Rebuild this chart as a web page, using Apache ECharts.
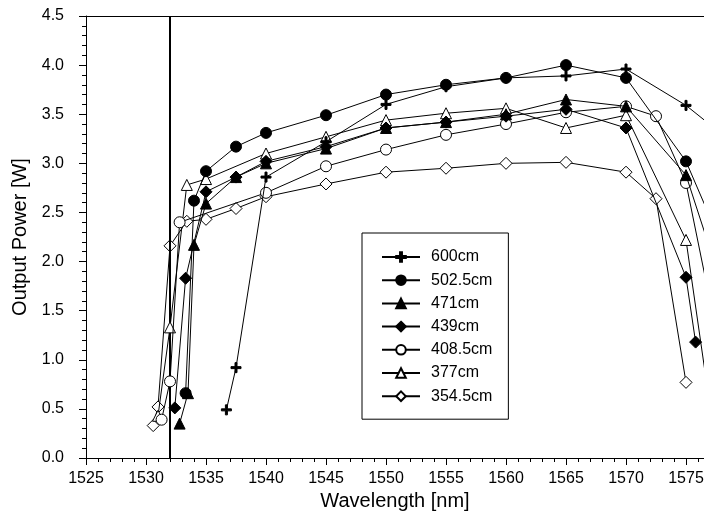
<!DOCTYPE html>
<html>
<head>
<meta charset="utf-8">
<script src="https://cdn.jsdelivr.net/npm/echarts@6/dist/echarts.min.js"></script>
<style>html,body{margin:0;padding:0;background:#fff}#c{width:704px;height:527px}</style>
</head>
<body>
<div id="c"></div>
<script>
// ---- data ----
const names = ['600cm', '502.5cm', '471cm', '439cm', '408.5cm', '377cm', '354.5cm'];

const wl600 = [1536.7, 1537.5, 1540, 1545, 1550, 1555, 1560, 1565, 1570, 1575, 1580];
const p600  = [0.49, 0.92, 2.86, 3.22, 3.60, 3.78, 3.87, 3.89, 3.96, 3.59, 3.10];

const wl502 = [1533.3, 1534, 1535, 1537.5, 1540, 1545, 1550, 1555, 1560, 1565, 1570, 1575, 1580];
const p502  = [0.66, 2.62, 2.92, 3.17, 3.31, 3.49, 3.70, 3.80, 3.87, 4.00, 3.87, 3.02, 1.6];

const wl471 = [1532.8, 1533.5, 1534, 1535, 1537.5, 1540, 1545, 1550, 1555, 1560, 1565, 1570, 1575, 1580];
const p471  = [0.35, 0.66, 2.17, 2.59, 2.86, 3.00, 3.15, 3.36, 3.42, 3.50, 3.65, 3.58, 2.88, 1.0];

const wl439 = [1532.4, 1533.3, 1535, 1537.5, 1540, 1545, 1550, 1555, 1560, 1565, 1570, 1575, 1575.8];
const p439  = [0.51, 1.83, 2.71, 2.86, 3.02, 3.17, 3.36, 3.42, 3.48, 3.55, 3.36, 1.84, 1.18];

const wl408 = [1531.3, 1532, 1532.8, 1540, 1545, 1550, 1555, 1560, 1565, 1570, 1572.5, 1575, 1577.5];
const p408  = [0.39, 0.78, 2.40, 2.70, 2.97, 3.14, 3.29, 3.40, 3.52, 3.58, 3.48, 2.80, 1.3];

const wl377 = [1531, 1532, 1533.4, 1535, 1540, 1545, 1550, 1555, 1560, 1565, 1570, 1575, 1577.5];
const p377  = [0.43, 1.33, 2.78, 2.84, 3.10, 3.27, 3.44, 3.51, 3.56, 3.36, 3.49, 2.22, 0.1];

const wl354 = [1530.6, 1531, 1532, 1533.4, 1535, 1537.5, 1540, 1545, 1550, 1555, 1560, 1565, 1570, 1572.5, 1575];
const p354  = [0.33, 0.52, 2.16, 2.41, 2.43, 2.54, 2.66, 2.79, 2.91, 2.95, 3.00, 3.01, 2.91, 2.64, 0.77];

const markerX = 1532;

// ---- chart ----
const zip = (a, b) => a.map((v, i) => [v, b[i]]);
const plus = 'path://M4,0H6V4H10V6H6V10H4V6H0V4H4Z';
const fill = {color: '#000', borderColor: '#000', borderWidth: 1};
const open = {color: '#fff', borderColor: '#000', borderWidth: 1};
const defs = [
  {x: wl600, y: p600, symbol: plus, size: 10, style: fill},
  {x: wl502, y: p502, symbol: 'circle', size: 11, style: fill},
  {x: wl471, y: p471, symbol: 'triangle', size: 11, style: fill},
  {x: wl439, y: p439, symbol: 'diamond', size: 12, style: fill},
  {x: wl408, y: p408, symbol: 'circle', size: 11, style: open},
  {x: wl377, y: p377, symbol: 'triangle', size: 11, style: open},
  {x: wl354, y: p354, symbol: 'diamond', size: 12, style: open}
];
const series = defs.map((d, i) => ({
  name: names[i],
  type: 'line',
  data: zip(d.x, d.y),
  symbol: d.symbol,
  symbolSize: d.size,
  showAllSymbol: true,
  clip: true,
  lineStyle: {color: '#000', width: 1},
  itemStyle: d.style,
  emphasis: {disabled: true},
  animation: false,
  z: 10 - i
}));
series[0].markLine = {
  silent: true, symbol: ['none', 'none'], label: {show: false},
  lineStyle: {color: '#000', width: 2, type: 'solid'},
  data: [{xAxis: markerX}], animation: false
};

const chart = echarts.init(document.getElementById('c'), null, {renderer: 'canvas'});
const font = 'Arial, "Liberation Sans", sans-serif';
chart.setOption({
  backgroundColor: '#fff',
  animation: false,
  textStyle: {fontFamily: font},
  grid: {left: 86, top: 16, right: 0, bottom: 69, show: false, containLabel: false, outerBoundsMode: 'none'},
  legend: {
    orient: 'vertical', left: 362, top: 233,
    data: names,
    itemWidth: 38, itemHeight: 12, itemGap: 7.2,
    padding: [16, 16, 15, 19],
    borderColor: '#000', borderWidth: 1,
    textStyle: {fontSize: 16, color: '#000', fontFamily: font, padding: [0, 0, 0, 6]},
    selectedMode: false
  },
  xAxis: [{
    type: 'value', min: 1525, max: 1576.5, interval: 5,
    name: 'Wavelength [nm]', nameLocation: 'middle', nameGap: 30,
    nameTextStyle: {fontSize: 20, color: '#000', fontFamily: font},
    axisLine: {lineStyle: {color: '#000', width: 1}},
    axisTick: {length: 7, lineStyle: {color: '#000'}},
    minorTick: {show: true, splitNumber: 5, length: 4, lineStyle: {color: '#000'}},
    axisLabel: {fontSize: 16, color: '#000', margin: 13, fontFamily: font, formatter: v => String(v), showMaxLabel: false},
    splitLine: {show: false}
  }, {
    type: 'value', min: 1525, max: 1576.5, position: 'top',
    axisLine: {show: true, lineStyle: {color: '#000', width: 1}},
    axisTick: {show: false}, axisLabel: {show: false}, splitLine: {show: false}
  }],
  yAxis: {
    type: 'value', min: 0, max: 4.5, interval: 0.5,
    name: 'Output Power [W]', nameLocation: 'middle', nameGap: 56,
    nameTextStyle: {fontSize: 20, color: '#000', fontFamily: font},
    axisLine: {show: true, lineStyle: {color: '#000', width: 1}},
    axisTick: {show: true, length: 7, lineStyle: {color: '#000'}},
    minorTick: {show: true, splitNumber: 5, length: 4, lineStyle: {color: '#000'}},
    axisLabel: {fontSize: 16, color: '#000', margin: 22, fontFamily: font, formatter: v => v.toFixed(1)},
    splitLine: {show: false}
  },
  series: series
});
</script>
</body>
</html>
